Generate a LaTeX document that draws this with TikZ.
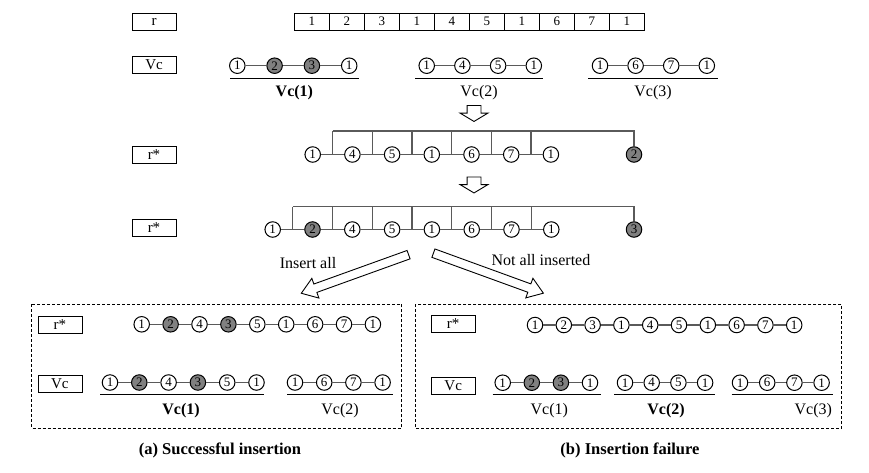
\documentclass[tikz,border=0pt]{standalone}
\usepackage{fontspec}
\setmainfont{Liberation Serif}
\usetikzlibrary{shapes.arrows,calc}

\definecolor{hitgray}{RGB}{128,128,128}
\definecolor{linkgray}{RGB}{90,90,90}
\newcommand\fs[1]{\fontsize{#1}{#1}\selectfont}

% chain of vertices: name, first x, y, step, value/style list
\newcommand\vchain[5]{%
  \foreach \val/\sty [count=\i] in {#5} {
    \node[\sty] (#1\i) at ({#2+#4*(\i-1)},#3) {\val};
    \ifnum\i>1
      \pgfmathtruncatemacro\prev{\i-1}
      \draw[link] (#1\prev) -- (#1\i);
    \fi
  }}

\tikzset{
  tag/.style = {draw, minimum width=44, minimum height=17, inner sep=0, font=\fs{15}},
  cell/.style = {draw, minimum width=35, minimum height=17, inner sep=0, font=\fs{13}},
  vtx/.style = {circle, draw, line width=1, minimum size=15.5, inner sep=0, font=\fs{13}},
  hit/.style = {vtx, fill=hitgray},
  link/.style = {draw=linkgray, line width=1.2},
  uline/.style = {line width=1.4},
  sub/.style = {font=\fs{16}},
  subb/.style = {font=\fs{16}\bfseries},
  title/.style = {font=\fs{16.5}\bfseries},
  panel/.style = {line width=0.8, dash pattern=on 3pt off 2pt},
  fatarrow/.style = {single arrow, draw, line width=0.9, inner xsep=0, fill=white, anchor=tail},
  flowdown/.style = {fatarrow, minimum height=16, inner ysep=6.5,
    single arrow head extend=7, single arrow tip angle=118, rotate=-90},
  split/.style = {fatarrow, inner ysep=4,
    single arrow head extend=6, single arrow tip angle=70}
}

\begin{document}
\begin{tikzpicture}[x=1pt, y=-1pt]
  \useasboundingbox (0,0) rectangle (869,472);

  % r and the cut into Vc
  \node[tag] (rtag) at (154,21.5) {r};
  \foreach \val [count=\i] in {1,2,3,1,4,5,1,6,7,1}
    \node[cell] (r\i) at ({311.8+35*(\i-1)},21.5) {\val};

  \node[tag] (vtag) at (154,64.7) {Vc};
  \vchain{a}{237.3}{65.7}{37.3}{1/vtx,2/hit,3/hit,1/vtx}
  \vchain{b}{426.7}{65.7}{35.7}{1/vtx,4/vtx,5/vtx,1/vtx}
  \vchain{c}{600}{65.7}{35.6}{1/vtx,6/vtx,7/vtx,1/vtx}
  \draw[uline] (230,78.3) -- (358.7,78.3);
  \draw[uline] (415,78.3) -- (543.3,78.3);
  \draw[uline] (588.3,78.3) -- (717.7,78.3);
  \node[subb] (la) at (294.4,93) {Vc(1)};
  \node[sub] (lb) at (479,93) {Vc(2)};
  \node[sub] (lc) at (653,93) {Vc(3)};

  \node[flowdown] (go1) at (474,105) {};

  % first insertion
  \node[tag] (mtag) at (154,154.5) {r*};
  \vchain{m}{312.7}{154.5}{39.7}{1/vtx,4/vtx,5/vtx,1/vtx,6/vtx,7/vtx,1/vtx}
  \node[hit] (m8) at (634,154.5) {2};
  \foreach \i [evaluate=\i as \j using int(\i+1)] in {1,...,6} {
    \coordinate (gm\i) at ($(m\i)!.5!(m\j)$);
    \draw[link] (gm\i) -- ++(0,-23.5);
  }
  \draw[link] (gm1) ++(0,-23.5) -| (m8);

  \node[flowdown] (go2) at (474,176.5) {};

  % second insertion
  \node[tag] (ntag) at (154,228) {r*};
  \vchain{n}{272.7}{229.5}{39.8}{1/vtx,2/hit,4/vtx,5/vtx,1/vtx,6/vtx,7/vtx,1/vtx}
  \node[hit] (n9) at (634,229.5) {3};
  \foreach \i [evaluate=\i as \j using int(\i+1)] in {1,...,7} {
    \coordinate (gn\i) at ($(n\i)!.5!(n\j)$);
    \draw[link] (gn\i) -- ++(0,-23);
  }
  \draw[link] (gn1) ++(0,-23) -| (n9);

  % two outcomes
  \node[split, minimum height=114, rotate=199.8] (toa) at (409,254.5) {};
  \node[split, minimum height=117, rotate=-20] (tob) at (433,253) {};
  \node[sub] (insall) at (308,262.7) {Insert all};
  \node[sub] (notall) at (541,260) {Not all inserted};

  % (a) successful insertion
  \draw[panel] (31.7,304.3) rectangle (401.7,428.3);
  \node[tag] (artag) at (59.8,324.5) {r*};
  \node[tag] (avtag) at (59.8,384) {Vc};
  \vchain{ar}{141.7}{324.3}{28.9}{1/vtx,2/hit,4/vtx,3/hit,5/vtx,1/vtx,6/vtx,7/vtx,1/vtx}
  \vchain{aa}{110}{382.5}{29.3}{1/vtx,2/hit,4/vtx,3/hit,5/vtx,1/vtx}
  \vchain{ab}{295}{382.5}{29.2}{1/vtx,6/vtx,7/vtx,1/vtx}
  \draw[uline] (100,394.3) -- (264,394.3);
  \draw[uline] (287.3,394.3) -- (392.7,394.3);
  \node[subb] (laa) at (181,410.7) {Vc(1)};
  \node[sub] (lab) at (340,410.7) {Vc(2)};
  \node[title] (capa) at (220,450) {(a) Successful insertion};

  % (b) insertion failure
  \draw[panel] (415,304.3) rectangle (841.7,428.3);
  \node[tag] (brtag) at (453.2,324) {r*};
  \node[tag] (bvtag) at (453.2,385.5) {Vc};
  \vchain{br}{535}{325}{28.8}{1/vtx,2/vtx,3/vtx,1/vtx,4/vtx,5/vtx,1/vtx,6/vtx,7/vtx,1/vtx}
  \vchain{ba}{502.7}{382.7}{29.1}{1/vtx,2/hit,3/hit,1/vtx}
  \vchain{bb}{625}{382.7}{26.7}{1/vtx,4/vtx,5/vtx,1/vtx}
  \vchain{bc}{740}{382.7}{27.2}{1/vtx,6/vtx,7/vtx,1/vtx}
  \draw[uline] (492.7,394.3) -- (600.7,394.3);
  \draw[uline] (614,394.3) -- (715,394.3);
  \draw[uline] (731.7,394.3) -- (833.3,394.3);
  \node[sub] (lba) at (549.3,410.7) {Vc(1)};
  \node[subb] (lbb) at (666,410.7) {Vc(2)};
  \node[sub] (lbc) at (813.3,410.7) {Vc(3)};
  \node[title] (capb) at (630,450) {(b) Insertion failure};
\end{tikzpicture}
\end{document}
